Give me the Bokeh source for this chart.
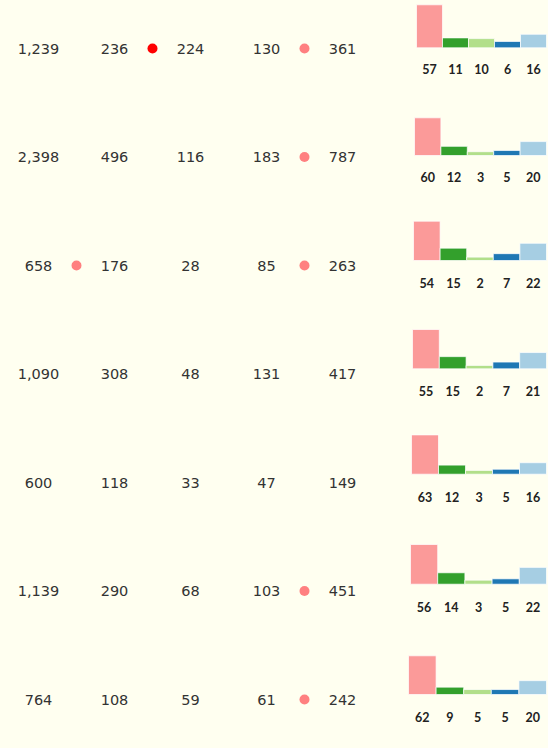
from bokeh.plotting import figure
from bokeh.models import Range1d
from bokeh.core.properties import value
from bokeh.embed import file_html
from bokeh.resources import INLINE

# ---- data ----
col1 = [1239, 2398, 658, 1090, 600, 1139, 764]
col2 = [236, 496, 176, 308, 118, 290, 108]
col3 = [224, 116, 28, 48, 33, 68, 59]
col4 = [130, 183, 85, 131, 47, 103, 61]
col5 = [361, 787, 263, 417, 149, 451, 242]
columns = [col1, col2, col3, col4, col5]

# flagged cells: row index, column index, level
flag_rows = [0, 0, 1, 2, 2, 5, 6]
flag_cols = [2, 4, 4, 1, 4, 4, 4]
flag_level = ["strong", "weak", "weak", "weak", "weak", "weak", "weak"]

bar_colors = ["#fb9a99", "#33a02c", "#b2df8a", "#1f78b4", "#a6cee3"]
flag_colors = {"strong": "#ff0000", "weak": "#ff8080"}
BG = "#fffff0"

# ---- layout (page pixel coordinates) ----
W, H = 548, 748
n_rows = len(col1)
col_x = [38 + 76 * j for j in range(5)]
row_y = [48 + 108.5 * i for i in range(n_rows)]
bar_left = [416, 414, 413, 412, 411, 410, 408]
bar_right = 546
bar_base = [47.3, 155, 260, 368.3, 473.7, 583.7, 694]
bar_hmax = [43, 37.7, 39.3, 39.3, 39.3, 39.7, 38.7]
label_off = [20.7, 21.7, 22.8, 22.5, 22.6, 22.6, 22.7]

p = figure(width=W, height=H, x_range=Range1d(0, W), y_range=Range1d(H, 0),
           output_backend="svg", toolbar_location=None, min_border=0)
p.axis.visible = False
p.grid.visible = False
p.outline_line_color = None
p.background_fill_color = BG
p.border_fill_color = BG

# numbers
tx, ty, tt = [], [], []
for i in range(n_rows):
    for j in range(5):
        tx.append(col_x[j]); ty.append(row_y[i]); tt.append(f"{columns[j][i]:,}")
p.text(x=tx, y=ty, text=tt, text_align="center", text_baseline="middle",
       text_font=value("DejaVu Sans"), text_font_size="14.5px", text_color="#333333")

# flags
fx = [col_x[c] - 38 for c in flag_cols]
fy = [row_y[r] for r in flag_rows]
fc = [flag_colors[l] for l in flag_level]
p.scatter(x=fx, y=fy, size=10, fill_color=fc, line_color=None)

# percentage bars
L, R, T, B, C, lx, ly, lt = [], [], [], [], [], [], [], []
for i in range(n_rows):
    vals = [columns[j][i] for j in range(5)]
    tot = sum(vals)
    pct = [round(100 * v / tot) for v in vals]
    mx = max(pct)
    w = (bar_right - bar_left[i]) / 5
    for j in range(5):
        left = bar_left[i] + w * j
        h = 2 + (bar_hmax[i] - 2) * pct[j] / mx
        L.append(left); R.append(left + w)
        B.append(bar_base[i]); T.append(bar_base[i] - h)
        C.append(bar_colors[j])
        lx.append(left + w / 2); ly.append(bar_base[i] + label_off[i]); lt.append(str(pct[j]))

p.quad(left=L, right=R, top=T, bottom=B, fill_color=C, line_color="white", line_alpha=0.7, line_width=1)
p.text(x=lx, y=ly, text=lt, text_align="center", text_baseline="middle",
       text_font=value("Lato"), text_font_style="bold", text_font_size="12.5px", text_color="#222222")

open("out.html", "w").write(file_html(p, INLINE).replace(
    "</head>", "<style>html,body{background:#fffff0;}</style></head>"))
